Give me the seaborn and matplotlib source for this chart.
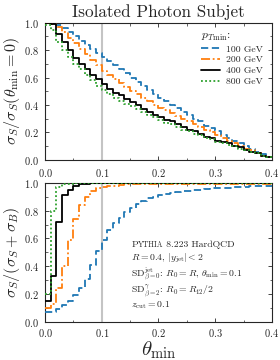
import numpy as np
import pandas as pd
import matplotlib
matplotlib.use("Agg")
import matplotlib.pyplot as plt
from matplotlib.ticker import MultipleLocator
import seaborn as sns

# pT_min labels and step values per 0.01 bin in theta_min (0.00 .. 0.39)
labels = ["100 GeV", "200 GeV", "400 GeV", "800 GeV"]
colors = ["#1f77b4", "#ff7f0e", "black", "#2ca02c"]

eff_100 = [1.00, 0.99, 0.98, 0.96, 0.93, 0.90, 0.87, 0.84, 0.81, 0.78,
           0.75, 0.72, 0.69, 0.66, 0.63, 0.60, 0.57, 0.54, 0.51, 0.48,
           0.45, 0.43, 0.40, 0.38, 0.35, 0.33, 0.30, 0.28, 0.25, 0.23,
           0.21, 0.18, 0.16, 0.14, 0.12, 0.10, 0.08, 0.06, 0.04, 0.02]
eff_200 = [1.00, 0.99, 0.97, 0.93, 0.89, 0.85, 0.81, 0.77, 0.73, 0.69,
           0.65, 0.62, 0.59, 0.56, 0.53, 0.50, 0.48, 0.45, 0.43, 0.40,
           0.38, 0.36, 0.34, 0.32, 0.30, 0.28, 0.26, 0.24, 0.22, 0.20,
           0.18, 0.16, 0.14, 0.12, 0.10, 0.08, 0.07, 0.05, 0.03, 0.02]
eff_400 = [1.00, 0.99, 0.92, 0.86, 0.80, 0.74, 0.70, 0.66, 0.62, 0.59,
           0.55, 0.52, 0.49, 0.47, 0.44, 0.42, 0.40, 0.37, 0.35, 0.33,
           0.31, 0.29, 0.28, 0.26, 0.24, 0.22, 0.21, 0.19, 0.17, 0.16,
           0.14, 0.13, 0.12, 0.10, 0.09, 0.07, 0.06, 0.05, 0.03, 0.02]
eff_800 = [0.98, 0.95, 0.86, 0.80, 0.75, 0.70, 0.66, 0.62, 0.58, 0.54,
           0.51, 0.48, 0.45, 0.43, 0.41, 0.39, 0.37, 0.35, 0.33, 0.31,
           0.29, 0.27, 0.26, 0.24, 0.22, 0.21, 0.19, 0.18, 0.16, 0.15,
           0.13, 0.12, 0.11, 0.10, 0.08, 0.07, 0.06, 0.05, 0.03, 0.02]

pur_100 = [0.07, 0.07, 0.09, 0.12, 0.15, 0.19, 0.24, 0.31, 0.41, 0.51,
           0.59, 0.66, 0.71, 0.75, 0.79, 0.82, 0.85, 0.87, 0.89, 0.90,
           0.91, 0.92, 0.93, 0.935, 0.94, 0.945, 0.95, 0.95, 0.955, 0.96,
           0.96, 0.96, 0.965, 0.97, 0.97, 0.97, 0.975, 0.975, 0.98, 0.98]
pur_200 = [0.10, 0.13, 0.24, 0.40, 0.59, 0.74, 0.84, 0.90, 0.94, 0.96,
           0.97, 0.98, 0.98, 0.985, 0.99, 0.99, 0.99, 0.99, 0.99, 0.99,
           0.99, 0.99, 0.99, 0.99, 0.99, 0.99, 0.99, 0.99, 0.99, 0.99,
           0.99, 0.99, 0.99, 0.99, 0.99, 0.99, 0.99, 0.99, 0.99, 0.99]
pur_400 = [0.15, 0.33, 0.72, 0.91, 0.95, 0.98, 0.99, 0.995, 1.0, 1.0,
           1.0, 1.0, 1.0, 1.0, 1.0, 1.0, 1.0, 1.0, 1.0, 1.0,
           1.0, 1.0, 1.0, 1.0, 1.0, 1.0, 1.0, 1.0, 1.0, 1.0,
           1.0, 1.0, 1.0, 1.0, 1.0, 1.0, 1.0, 1.0, 1.0, 1.0]
pur_800 = [0.20, 0.80, 0.97, 0.99, 0.995, 1.0, 1.0, 1.0, 1.0, 1.0,
           1.0, 1.0, 1.0, 1.0, 1.0, 1.0, 1.0, 1.0, 1.0, 1.0,
           1.0, 1.0, 1.0, 1.0, 1.0, 1.0, 1.0, 1.0, 1.0, 1.0,
           1.0, 1.0, 1.0, 1.0, 1.0, 1.0, 1.0, 1.0, 1.0, 1.0]

efficiencies = [eff_100, eff_200, eff_400, eff_800]
purities = [pur_100, pur_200, pur_400, pur_800]

linestyles = [(0, (4, 2)), (0, (5, 1.5, 1, 1.5)), "-", (0, (1, 1.3))]

sns.set_style("ticks")
plt.rcParams["font.family"] = "serif"
plt.rcParams["font.serif"] = ["cmr10", "DejaVu Serif"]
plt.rcParams["mathtext.fontset"] = "cm"
plt.rcParams["axes.formatter.use_mathtext"] = True
plt.rcParams["axes.unicode_minus"] = False


def to_frame(values):
    # bin edges: each value holds from its left edge, last value extended to 0.4
    edges = np.round(np.arange(len(values) + 1) * 0.01, 2)
    return pd.DataFrame({"theta": edges, "val": list(values) + [values[-1]]})


fig = plt.figure(figsize=(2.8, 3.6), dpi=100)
ax1 = fig.add_axes([0.161, 0.556, 0.81, 0.381])
ax2 = fig.add_axes([0.161, 0.106, 0.81, 0.386])

for ax in (ax1, ax2):
    ax.axvline(0.1, color="#c4c4c4", lw=1.5, zorder=1)

for lab, col, ls, eff, pur in zip(labels, colors, linestyles, efficiencies, purities):
    sns.lineplot(data=to_frame(eff), x="theta", y="val", ax=ax1, color=col,
                 linestyle=ls, lw=1.3, drawstyle="steps-post", label=lab,
                 errorbar=None, zorder=3)
    sns.lineplot(data=to_frame(pur), x="theta", y="val", ax=ax2, color=col,
                 linestyle=ls, lw=1.3, drawstyle="steps-post", legend=False,
                 errorbar=None, zorder=3)

for ax in (ax1, ax2):
    ax.set_xlim(0, 0.4)
    ax.set_ylim(0, 1.0)
    ax.xaxis.set_major_locator(MultipleLocator(0.1))
    ax.xaxis.set_minor_locator(MultipleLocator(0.05))
    ax.yaxis.set_major_locator(MultipleLocator(0.2))
    ax.yaxis.set_minor_locator(MultipleLocator(0.1))
    ax.tick_params(which="both", direction="in", top=True, right=True,
                   labelsize=7.5)
    ax.tick_params(axis="y", pad=4.5)
    ax.tick_params(which="major", length=3, width=0.6)
    ax.tick_params(which="minor", length=1.8, width=0.5)
    for s in ax.spines.values():
        s.set_linewidth(0.8)
    ax.set_xlabel("")

ax1.tick_params(axis="x", pad=5)
ax2.tick_params(axis="x", pad=4)

ax1.set_ylabel(r"$\sigma_S/\sigma_S(\theta_\mathrm{min}=0)$", fontsize=11.5, labelpad=1)
ax2.set_ylabel(r"$\sigma_S/(\sigma_S+\sigma_B)$", fontsize=11.5, labelpad=1)
ax2.set_xlabel(r"$\theta_\mathrm{min}$", fontsize=15, labelpad=0)
ax1.set_title("Isolated Photon Subjet", fontsize=12.3, pad=4)

leg = ax1.legend(title=r"$p_{T\mathrm{min}}$:", loc="upper right", frameon=False,
                 fontsize=7, title_fontsize=8.5, handlelength=2.0,
                 borderaxespad=0.5, labelspacing=0.2, alignment="left",
                 handletextpad=0.6)

# Pythia in small caps, built from pieces
t1 = ax2.text(0.38, 0.54, "P", transform=ax2.transAxes, fontsize=7, va="baseline")
t2 = ax2.annotate("YTHIA", xy=(1, 0), xycoords=t1, fontsize=5.5, va="bottom")
ax2.annotate(" 8.223 HardQCD", xy=(1, 0), xycoords=t2, fontsize=7, va="bottom")

info = "\n".join([
    r"$R=0.4$, $|y_\mathrm{jet}|<2$",
    r"$\mathrm{SD}^\mathrm{jet}_{\beta=0}$: $R_0=R$, $\theta_\mathrm{min}=0.1$",
    r"$\mathrm{SD}^\gamma_{\beta=2}$: $R_0=R_{12}/2$",
    r"$z_\mathrm{cut}=0.1$",
])
ax2.text(0.38, 0.505, info, transform=ax2.transAxes, fontsize=7, va="top",
         linespacing=1.05)

fig.savefig("out.png", dpi=100)
